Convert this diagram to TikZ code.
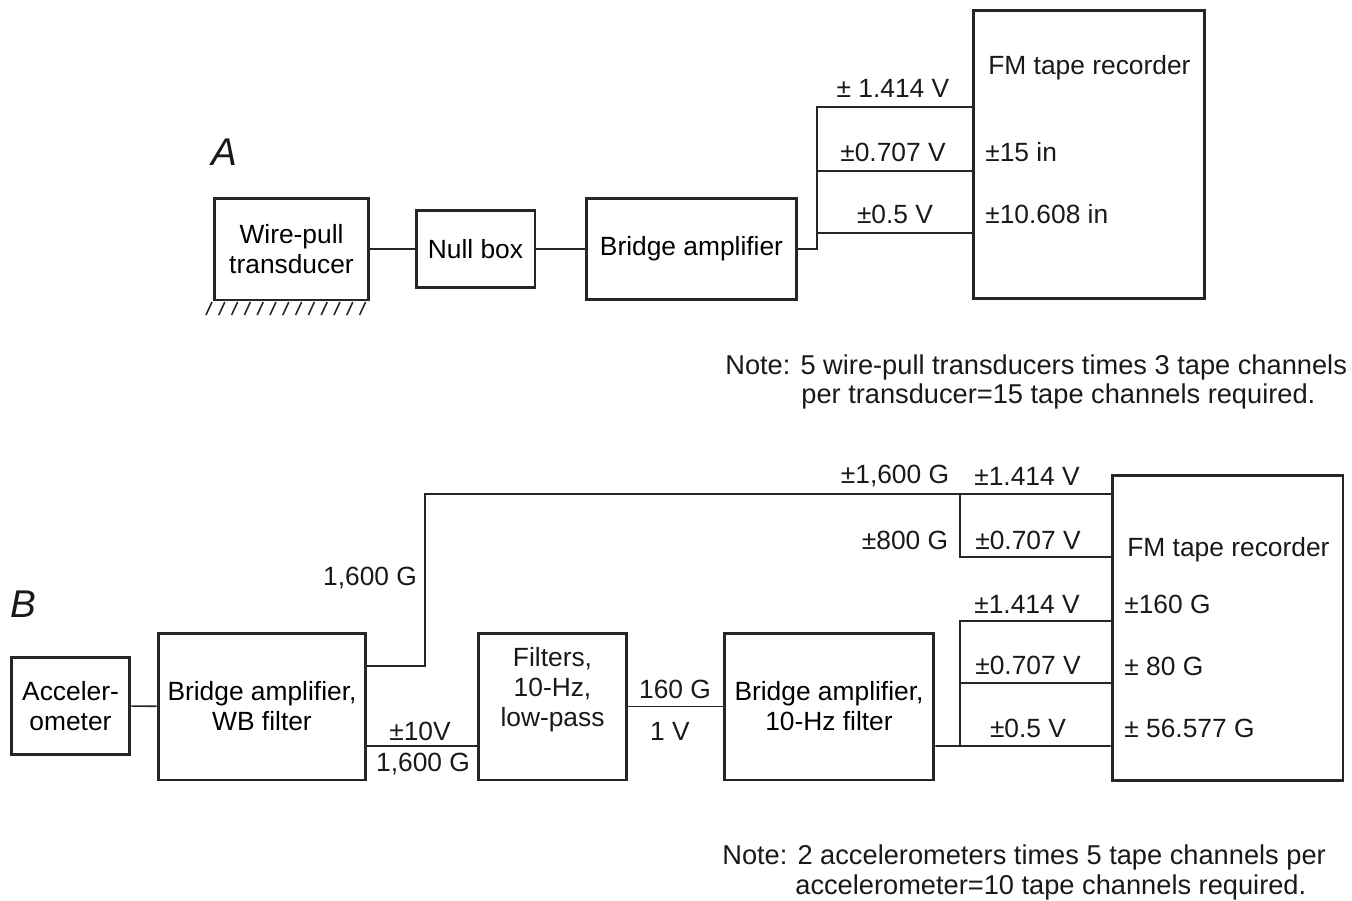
\documentclass[tikz,border=0pt]{standalone}
\usepackage{fontspec}
\setmainfont{Liberation Sans}
\begin{document}
\begin{tikzpicture}[x=0.02cm,y=-0.02cm,
  box/.style={draw=black!85, line width=1.7pt, align=center, inner sep=0pt, font=\fontsize{15}{17}\selectfont},
  wire/.style={draw=black!85, line width=0.9pt},
  lbl/.style={font=\fontsize{15}{17}\selectfont, inner sep=0pt, text=black!90},
  intext/.style={lbl, anchor=west},
  note/.style={font=\fontsize{15.5}{18}\selectfont, inner sep=0pt, anchor=west, text=black!90},
  panel/.style={font=\fontsize{22}{24}\selectfont\itshape, inner sep=0pt, text=black!90}]
\useasboundingbox (0,0) rectangle (1352,900);

% ---------------- Part A ----------------
\node[panel] (pa) at (224,152) {A};
\node[box, minimum width=3.10cm, minimum height=2.04cm] (wpt) at (291.5,249) {Wire-pull\\transducer};
\node[box, minimum width=2.38cm, minimum height=1.54cm] (nullb) at (475.5,249) {Null box};
\node[box, minimum width=4.22cm, minimum height=2.02cm] (baa) at (691.5,249) {Bridge amplifier};
\node[box, minimum width=4.64cm, minimum height=5.78cm] (fma) at (1089,154.5) {};

\foreach \i in {0,...,12}
  \draw[black!85, line width=0.9pt] ({206+\i*12.8},315) -- ({212+\i*12.8},302);

\draw[wire] (wpt) -- (nullb);
\draw[wire] (nullb) -- (baa);
\coordinate (a1) at (817,107);
\coordinate (a2) at (817,171);
\coordinate (a3) at (817,233);
\draw[wire] (baa.east) -| (a1) -- (a1 -| fma.west);
\draw[wire] (a2) -- (a2 -| fma.west);
\draw[wire] (a3) -- (a3 -| fma.west);

\node[lbl] (la1) at (893,88) {± 1.414 V};
\node[lbl] (la2) at (893,152) {±0.707 V};
\node[lbl] (la3) at (895,214) {±0.5 V};

\node[intext] (fmat) at (988,68) {FM tape recorder};
\node[intext] (fma1) at (985,152) {±15 in};
\node[intext] (fma2) at (985,214) {±10.608 in};

\node[note] (na1) at (725,367) {Note: 5 wire-pull transducers times 3 tape channels};
\node[note] (na2) at (801,396) {per transducer=15 tape channels required.};

% ---------------- Part B ----------------
\node[panel] (pb) at (23,604) {B};
\node[box, minimum width=2.38cm, minimum height=1.94cm] (acc) at (70.5,706) {Acceler-\\ometer};
\node[box, minimum width=4.16cm, minimum height=2.94cm] (bawb) at (262,706.5) {Bridge amplifier,\\WB filter};
\node[box, minimum width=2.98cm, minimum height=2.94cm,
  label={[lbl, align=center, yshift=0.33cm]center:{Filters,\\10-Hz,\\low-pass}}] (filt) at (552.5,706.5) {};
\node[box, minimum width=4.20cm, minimum height=2.94cm] (ba10) at (829,706.5) {Bridge amplifier,\\10-Hz filter};
\node[box, minimum width=4.62cm, minimum height=6.12cm] (fmb) at (1227.5,628) {};

\draw[wire] (acc) -- (bawb);
\coordinate (b1) at (425,494);
\draw[wire] ([yshift=0.81cm]bawb.east) -| (b1) -- (b1 -| fmb.west);
\draw[wire] ([yshift=-0.79cm]bawb.east) -- ([yshift=-0.79cm]filt.west);
\draw[wire] (filt) -- (ba10);
\coordinate (c1) at (960,621);
\coordinate (c2) at (960,683);
\coordinate (c3) at (960,746);
\draw[wire] ([yshift=-0.79cm]ba10.east) -- (c3) -- (c3 -| fmb.west);
\draw[wire] (c3) -- (c1) -- (c1 -| fmb.west);
\draw[wire] (c2) -- (c2 -| fmb.west);
\coordinate (d1) at (960,494);
\coordinate (d2) at (960,557);
\draw[wire] (d1) -- (d2) -- (d2 -| fmb.west);

\node[lbl] (lb0) at (370,578) {1,600 G};
\node[lbl] (lb1) at (420,731) {±10V};
\node[lbl] (lb2) at (423,764) {1,600 G};
\node[lbl] (lb3) at (675,689) {160 G};
\node[lbl] (lb4) at (670,731) {1 V};
\node[lbl] (lb5) at (895,476) {±1,600 G};
\node[lbl] (lb6) at (1027,476) {±1.414 V};
\node[lbl] (lb7) at (905,540) {±800 G};
\node[lbl] (lb8) at (1028,540) {±0.707 V};
\node[lbl] (lb9) at (1027,604) {±1.414 V};
\node[lbl] (lb10) at (1028,665) {±0.707 V};
\node[lbl] (lb11) at (1028,728) {±0.5 V};

\node[intext] (fmbt) at (1127,550) {FM tape recorder};
\node[intext] (fmb1) at (1124,604) {±160 G};
\node[intext] (fmb2) at (1124,666) {± 80 G};
\node[intext] (fmb3) at (1124,728) {± 56.577 G};

\node[note] (nb1) at (722,857) {Note: 2 accelerometers times 5 tape channels per};
\node[note] (nb2) at (795,887) {accelerometer=10 tape channels required.};
\end{tikzpicture}
\end{document}
